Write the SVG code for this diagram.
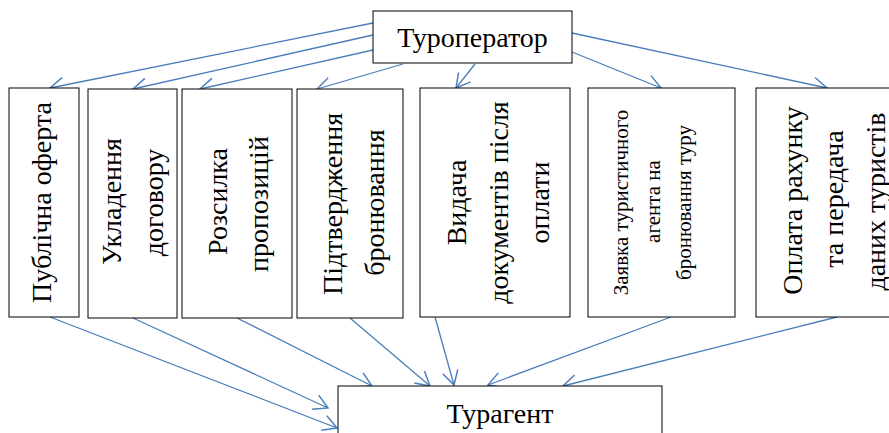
<svg xmlns="http://www.w3.org/2000/svg" width="889" height="433" viewBox="0 0 889 433">
<style>
.box{fill:#fff;stroke:#000;stroke-width:1}
.t{font-family:"Liberation Serif","Times New Roman",serif;font-size:28px;fill:#000;text-anchor:middle}
.s{font-size:21px}
.c{fill:none;stroke:#4A7EBB;stroke-width:1.3;marker-end:url(#ah)}
</style>
<defs>
<marker id="ah" markerUnits="userSpaceOnUse" orient="auto" refX="0" refY="0" markerWidth="20" markerHeight="20" viewBox="-14 -9 16 18" overflow="visible">
<path d="M-12.5,-7 L0,0 L-12.5,7" fill="none" stroke="#4A7EBB" stroke-width="1.3"/>
</marker>
</defs>
<rect width="889" height="433" fill="#fff"/>
<g id="connectors">
<line class="c" x1="373" y1="23" x2="50" y2="88"/>
<line class="c" x1="373" y1="35" x2="133" y2="89"/>
<line class="c" x1="373" y1="50" x2="200" y2="89"/>
<line class="c" x1="403" y1="64" x2="317" y2="89"/>
<line class="c" x1="475" y1="64" x2="456" y2="88"/>
<line class="c" x1="572" y1="52" x2="661" y2="88"/>
<line class="c" x1="572" y1="33" x2="827" y2="88"/>
<line class="c" x1="50" y1="317" x2="337" y2="428"/>
<line class="c" x1="133" y1="318" x2="328" y2="408"/>
<line class="c" x1="237" y1="318" x2="372" y2="386"/>
<line class="c" x1="350" y1="318" x2="430" y2="386"/>
<line class="c" x1="435" y1="317" x2="454" y2="385"/>
<line class="c" x1="671" y1="317" x2="488" y2="385"/>
<line class="c" x1="837" y1="317" x2="563" y2="386"/>
</g>
<g id="touroperator">
<rect class="box" x="373" y="11" width="199" height="52"/>
<text class="t" x="472.5" y="47">Туроператор</text>
</g>
<g id="b1">
<rect class="box" x="9" y="88" width="70" height="229"/>
<text class="t" transform="translate(51,202.5) rotate(-90)">Публічна оферта</text>
</g>
<g id="b2">
<rect class="box" x="88" y="89" width="89" height="229"/>
<text class="t" transform="translate(120.5,201.5) rotate(-90)">Укладення</text>
<text class="t" transform="translate(163,202.5) rotate(-90)">договору</text>
</g>
<g id="b3">
<rect class="box" x="182" y="89" width="110" height="229"/>
<text class="t" transform="translate(227,201.5) rotate(-90)">Розсилка</text>
<text class="t" transform="translate(268,204) rotate(-90)">пропозицій</text>
</g>
<g id="b4">
<rect class="box" x="297" y="89" width="106" height="229"/>
<text class="t" transform="translate(342,204) rotate(-90)">Підтвердження</text>
<text class="t" transform="translate(384,202.5) rotate(-90)">бронювання</text>
</g>
<g id="b5">
<rect class="box" x="420" y="88" width="150" height="229"/>
<text class="t" transform="translate(466,202.5) rotate(-90)">Видача</text>
<text class="t" transform="translate(508,202.5) rotate(-90)">документів після</text>
<text class="t" transform="translate(549,202.5) rotate(-90)">оплати</text>
</g>
<g id="b6">
<rect class="box" x="588" y="88" width="147" height="229"/>
<text class="t s" transform="translate(628,202.5) rotate(-90)">Заявка туристичного</text>
<text class="t s" transform="translate(659.5,201.5) rotate(-90)">агента на</text>
<text class="t s" transform="translate(691,202.5) rotate(-90)">бронювання туру</text>
</g>
<g id="b7">
<rect class="box" x="756" y="88" width="140" height="229"/>
<text class="t" transform="translate(802,200.5) rotate(-90)">Оплата рахунку</text>
<text class="t" transform="translate(843,199) rotate(-90)">та передача</text>
<text class="t" transform="translate(885,201.5) rotate(-90)">даних туристів</text>
</g>
<g id="turagent">
<rect class="box" x="338" y="386" width="324" height="60"/>
<text class="t" x="500" y="423">Турагент</text>
</g>
</svg>
